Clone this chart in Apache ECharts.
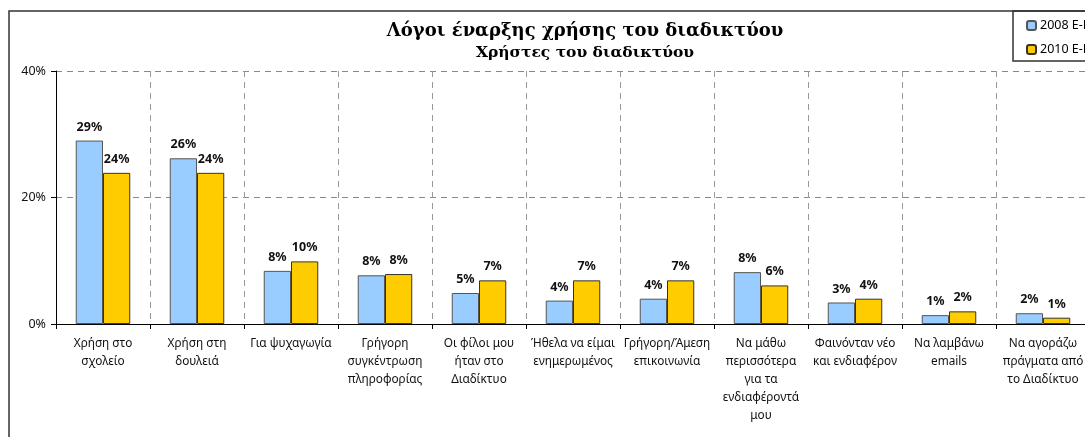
<!DOCTYPE html>
<html>
<head>
<meta charset="utf-8">
<script src="https://cdn.jsdelivr.net/npm/echarts@6/dist/echarts.min.js"></script>
<style>
  html, body { margin: 0; padding: 0; background: #fff; overflow: hidden; }
  #main { width: 1170px; height: 437px; }
</style>
</head>
<body>
<div id="main"></div>
<script>
// κατηγορίες (λόγοι έναρξης)
var categories = [
  'Χρήση στο\nσχολείο',
  'Χρήση στη\nδουλειά',
  'Για ψυχαγωγία',
  'Γρήγορη\nσυγκέντρωση\nπληροφορίας',
  'Οι φίλοι μου\nήταν στο\nΔιαδίκτυο',
  'Ήθελα να είμαι\nενημερωμένος',
  'Γρήγορη/Άμεση\nεπικοινωνία',
  'Να μάθω\nπερισσότερα\nγια τα\nενδιαφέροντά\nμου',
  'Φαινόνταν νέο\nκαι ενδιαφέρον',
  'Να λαμβάνω\nemails',
  'Να αγοράζω\nπράγματα από\nτο Διαδίκτυο'
];
var seriesNames = ['2008 E-Κοινότητα', '2010 E-Κοινότητα'];
var values2008 = [29.0, 26.2, 8.4, 7.7, 4.9, 3.7, 4.0, 8.2, 3.4, 1.4, 1.7];
var values2010 = [23.9, 23.9, 9.9, 7.9, 6.9, 6.9, 6.9, 6.1, 4.0, 2.0, 1.0];
var yTicks = { min: 0, max: 40, interval: 20 };

var myChart = echarts.init(document.getElementById('main'));

var labelOpt = {
  show: true,
  position: 'top',
  distance: 7,
  fontFamily: 'Noto Sans',
  fontWeight: 'bold',
  fontSize: 12.5,
  color: '#111',
  formatter: function (p) { return Math.round(p.value) + '%'; }
};

var option = {
  animation: false,
  title: {
    text: 'Λόγοι έναρξης χρήσης του διαδικτύου',
    subtext: 'Χρήστες του διαδικτύου',
    left: 'center',
    top: 17,
    itemGap: 5,
    textStyle: { fontFamily: 'DejaVu Serif', fontWeight: 'bold', fontSize: 18, color: '#000' },
    subtextStyle: { fontFamily: 'DejaVu Serif', fontWeight: 'bold', fontSize: 15.5, color: '#000' }
  },
  legend: {
    orient: 'vertical',
    left: 1026,
    top: 19,
    itemWidth: 9,
    itemHeight: 9,
    itemGap: 11,
    padding: [0, 0, 0, 0],
    textStyle: { fontFamily: 'Noto Sans', fontSize: 12.5, color: '#000', padding: [0, 0, 0, -1] },
    data: seriesNames
  },
  graphic: [
    { type: 'rect', shape: { x: 9, y: 11, width: 1150, height: 440 }, style: { fill: 'none', stroke: '#333', lineWidth: 1.5 }, z: 100 },
    { type: 'rect', shape: { x: 1013, y: 11, width: 150, height: 50 }, style: { fill: 'none', stroke: '#333', lineWidth: 1.5 }, z: 100 }
  ],
  grid: { left: 56, top: 71, width: 1034, height: 253 },
  xAxis: {
    type: 'category',
    data: categories,
    axisLine: { lineStyle: { color: '#000', width: 1 } },
    axisTick: { show: true, length: 5, lineStyle: { color: '#000' } },
    splitLine: { show: true, lineStyle: { color: '#999', type: [6, 5] } },
    axisLabel: {
      interval: 0,
      margin: 11,
      fontFamily: 'Noto Sans',
      fontSize: 11.8,
      lineHeight: 18,
      color: '#111'
    }
  },
  yAxis: {
    type: 'value',
    min: yTicks.min,
    max: yTicks.max,
    interval: yTicks.interval,
    axisLine: { show: true, lineStyle: { color: '#000', width: 1 } },
    axisTick: { show: true, length: 5, lineStyle: { color: '#000' } },
    splitLine: { show: true, lineStyle: { color: '#888', type: [6, 5] } },
    axisLabel: {
      margin: 10,
      fontFamily: 'Noto Sans',
      fontSize: 12.5,
      color: '#111',
      formatter: '{value}%'
    }
  },
  series: [
    {
      name: seriesNames[0],
      type: 'bar',
      data: values2008,
      barGap: '0%',
      barCategoryGap: '42%',
      itemStyle: { color: '#99CCFF', borderColor: '#555', borderWidth: 1 },
      label: labelOpt
    },
    {
      name: seriesNames[1],
      type: 'bar',
      data: values2010,
      itemStyle: { color: '#FFCC00', borderColor: '#333', borderWidth: 1 },
      label: labelOpt
    }
  ]
};

myChart.setOption(option);
</script>
</body>
</html>
